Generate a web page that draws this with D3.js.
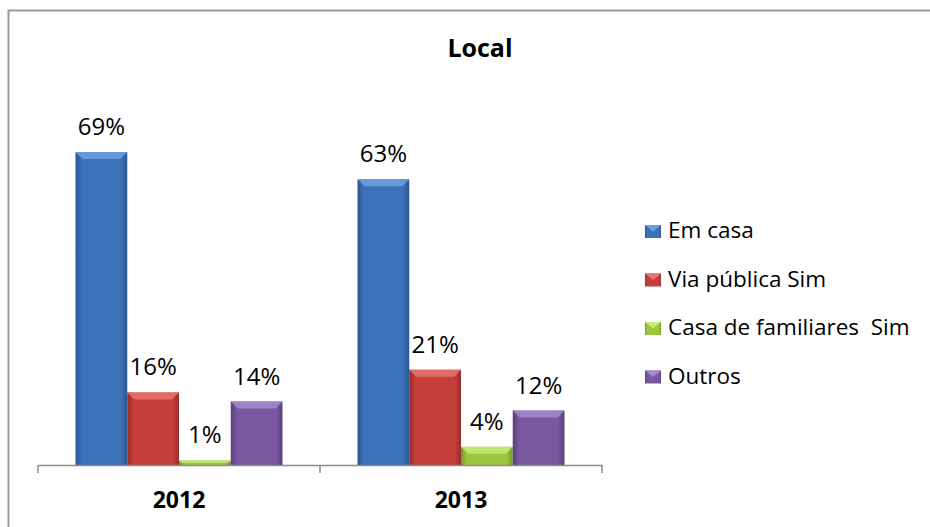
<!DOCTYPE html>
<html>
<head>
<meta charset="utf-8">
<script src="https://cdn.jsdelivr.net/npm/d3@7"></script>
<style>
    body { margin: 0; background: #fff; }
    text { font-family: "Open Sans", Lato, sans-serif; fill: #000; }
</style>
</head>
<body>
<div id="chart"></div>
<script>
// chart data
let years = ['2012', '2013'];
let series = ['Em casa', 'Via pública Sim', 'Casa de familiares  Sim', 'Outros'];
let em_casa = [69, 63];
let via_publica = [16, 21];
let casa_familiares = [1, 4];
let outros = [14, 12];

let values = [em_casa, via_publica, casa_familiares, outros];
let colors = ['#3C72B9', '#C43E3B', '#9CC73F', '#7A58A0'];
let light = ['#6FA0E0', '#E77471', '#C9EA7A', '#A688CB'];
let dark = ['#2A5690', '#952C2A', '#76982C', '#5A3F7C'];

const width = 930, height = 527;
const svg = d3.select('#chart').append('svg')
    .attr('width', width)
    .attr('height', height);

// outer frame (only top and left visible in the crop)
svg.append('rect')
    .attr('x', 8.5).attr('y', 10.5)
    .attr('width', 940).attr('height', 540)
    .attr('fill', 'none')
    .attr('stroke', '#9a9a9a')
    .attr('stroke-width', 2);

svg.append('text')
    .attr('x', 480).attr('y', 57)
    .attr('text-anchor', 'middle')
    .style('font-size', '25px')
    .style('font-weight', 'bold')
    .text('Local');

let x0 = d3.scaleBand()
    .domain(years)
    .range([38, 602]);

let x1 = d3.scaleBand()
    .domain(series)
    .range([0, x0.bandwidth()])
    .paddingOuter(0.725);

let y = d3.scaleLinear()
    .domain([0, 70])
    .range([465, 147.5]);

// gradients per series
let defs = svg.append('defs');
series.forEach((s, i) => {
    let g = defs.append('linearGradient')
        .attr('id', 'grad' + i)
        .attr('x1', '0').attr('x2', '1').attr('y1', '0').attr('y2', '0');
    g.append('stop').attr('offset', '0').attr('stop-color', dark[i]);
    g.append('stop').attr('offset', '0.12').attr('stop-color', colors[i]);
    g.append('stop').attr('offset', '0.88').attr('stop-color', colors[i]);
    g.append('stop').attr('offset', '1').attr('stop-color', dark[i]);
});

// flatten into bar records
let bars = [];
years.forEach((yr, yi) => {
    series.forEach((s, si) => {
        bars.push({year: yr, series: s, si: si, value: values[si][yi]});
    });
});

let barG = svg.append('g');
barG.selectAll('rect.bar')
    .data(bars)
    .enter()
    .append('rect')
    .attr('class', 'bar')
    .attr('x', d => x0(d.year) + x1(d.series))
    .attr('y', d => y(d.value))
    .attr('width', x1.bandwidth())
    .attr('height', d => y(0) - y(d.value))
    .attr('fill', d => 'url(#grad' + d.si + ')');

// bevel on the top of each bar
barG.selectAll('path.bevel')
    .data(bars)
    .enter()
    .append('path')
    .attr('class', 'bevel')
    .attr('fill', d => light[d.si])
    .attr('opacity', 0.85)
    .attr('d', d => {
        let bx = x0(d.year) + x1(d.series);
        let bw = x1.bandwidth();
        let top = y(d.value);
        let h = Math.min(7, (y(0) - top) / 2);
        return 'M' + bx + ',' + top + 'L' + (bx + bw) + ',' + top +
            'L' + (bx + bw - h) + ',' + (top + h) + 'L' + (bx + h) + ',' + (top + h) + 'Z';
    });

// value labels
svg.selectAll('text.val')
    .data(bars)
    .enter()
    .append('text')
    .attr('class', 'val')
    .attr('x', d => x0(d.year) + x1(d.series) + x1.bandwidth() / 2)
    .attr('y', d => y(d.value) - 17)
    .attr('text-anchor', 'middle')
    .style('font-size', '24px')
    .text(d => d.value + '%');

// x axis
let axis = svg.append('g')
    .attr('transform', 'translate(0,465)')
    .call(d3.axisBottom(x0).tickSize(0).tickFormat(''));
axis.select('.domain').attr('stroke', '#8c8c8c').attr('stroke-width', 1.5);
let edges = [38].concat(years.map(yr => x0(yr) + x0.bandwidth()));
axis.selectAll('line.edge')
    .data(edges)
    .enter()
    .append('line')
    .attr('class', 'edge')
    .attr('x1', d => d).attr('x2', d => d)
    .attr('y1', 0).attr('y2', 8)
    .attr('stroke', '#8c8c8c').attr('stroke-width', 1.5);

svg.selectAll('text.year')
    .data(years)
    .enter()
    .append('text')
    .attr('class', 'year')
    .attr('x', d => x0(d) + x0.bandwidth() / 2)
    .attr('y', 508)
    .attr('text-anchor', 'middle')
    .style('font-size', '23px')
    .style('font-weight', 'bold')
    .text(d => d);

// legend
let legend = svg.selectAll('g.legend')
    .data(series)
    .enter()
    .append('g')
    .attr('class', 'legend')
    .attr('transform', (d, i) => 'translate(645,' + (225 + i * 48.5) + ')');
legend.append('rect')
    .attr('width', 16).attr('height', 13)
    .attr('fill', (d, i) => 'url(#grad' + i + ')');
legend.append('path')
    .attr('fill', (d, i) => light[i])
    .attr('d', 'M0,0L16,0L8,6.5Z');
legend.append('text')
    .attr('x', 23).attr('y', 13)
    .style('font-size', '22.5px')
    .style('white-space', 'pre')
    .text(d => d);
</script>
</body>
</html>
